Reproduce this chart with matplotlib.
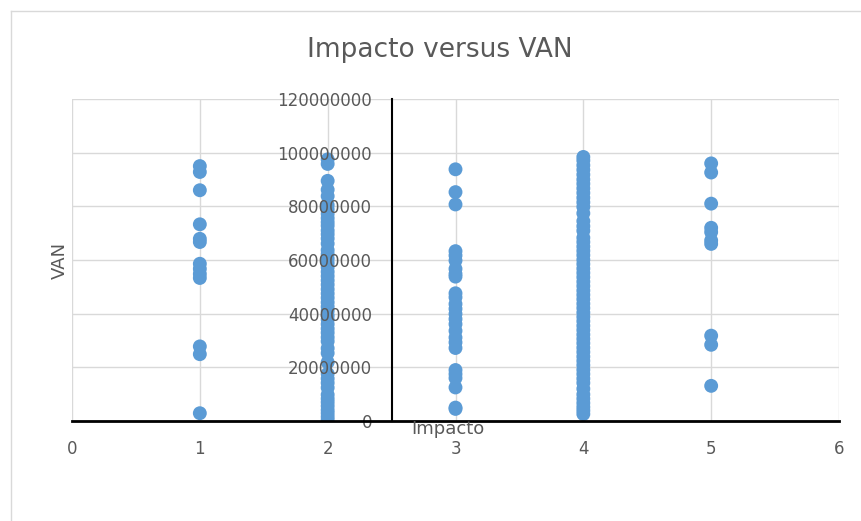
import matplotlib.pyplot as plt
from matplotlib.lines import Line2D
from matplotlib.ticker import MultipleLocator, FormatStrFormatter

# VAN values (millions), grouped by Impacto level
van_impacto_1 = [95.0, 92.8, 86.0, 73.3, 67.9, 66.7, 58.6, 56.7, 54.8, 53.3,
                 27.8, 24.9, 2.9]
van_impacto_2 = [97.5, 95.8, 89.5, 86.2, 83.8, 80.5, 78.9, 77.2, 75.6, 74.1,
                 72.8, 71.0, 69.6, 68.0, 66.1, 63.7, 62.2, 60.5, 58.9, 57.3,
                 55.6, 54.0, 52.4, 50.8, 49.1, 47.5, 45.9, 44.2, 42.6, 41.0,
                 39.3, 37.8, 36.1, 34.4, 32.9, 31.2, 29.7, 27.1, 25.3, 21.9,
                 17.6, 15.8, 14.2, 12.4, 9.8, 8.3, 7.0, 5.6, 4.1, 2.9, 1.6, 0.4]
van_impacto_3 = [93.8, 85.3, 80.7, 63.3, 61.7, 59.8, 56.7, 54.8, 53.8, 47.6,
                 46.1, 43.6, 41.8, 39.9, 38.0, 36.1, 33.6, 31.1, 29.3, 27.2,
                 19.0, 17.5, 16.0, 12.5, 5.0, 4.5]
van_impacto_4 = [98.4, 97.1, 95.3, 93.6, 91.8, 90.0, 88.4, 86.7, 85.0, 83.2,
                 81.5, 79.8, 77.4, 74.5, 72.6, 70.9, 68.3, 66.7, 65.0, 63.4,
                 61.8, 60.1, 58.5, 56.8, 55.2, 53.6, 51.9, 50.3, 48.6, 47.0,
                 45.4, 43.7, 42.1, 40.4, 38.8, 37.2, 35.5, 33.9, 32.2, 30.6,
                 29.0, 27.3, 25.7, 24.0, 22.4, 20.8, 19.1, 17.5, 15.8, 14.2,
                 12.0, 9.9, 8.3, 6.7, 5.2, 3.9, 2.6]
van_impacto_5 = [96.0, 92.6, 81.0, 72.0, 70.4, 67.3, 66.0, 31.8, 28.4, 13.1]

groups = {1: van_impacto_1, 2: van_impacto_2, 3: van_impacto_3,
          4: van_impacto_4, 5: van_impacto_5}

X_TICKS = [0, 1, 2, 3, 4, 5, 6]
Y_TICKS = [0, 20e6, 40e6, 60e6, 80e6, 100e6, 120e6]

GREY = "#595959"
GRID = "#d9d9d9"
BLUE = "#5b9bd5"

fig = plt.figure(figsize=(8.61, 5.21), dpi=100)
W, H = 861, 521
ax = fig.add_axes([72 / W, 1 - 421 / H, (839 - 72) / W, (421 - 99) / H])

# gridlines drawn by hand so the tick labels can sit above the markers
for x in X_TICKS:
    ax.axvline(x, color=GRID, linewidth=1, zorder=0)
for y in Y_TICKS:
    ax.axhline(y, color=GRID, linewidth=1, zorder=0)

for impacto, vals in groups.items():
    xs = [impacto] * len(vals)
    ys = [v * 1e6 for v in vals]
    ax.scatter(xs, ys, s=100, color=BLUE, edgecolors="none", zorder=2)

ax.set_xlim(0, 6)
ax.set_ylim(0, 120e6)
ax.xaxis.set_major_locator(MultipleLocator(1))
ax.yaxis.set_major_locator(MultipleLocator(20e6))
ax.yaxis.set_major_formatter(FormatStrFormatter("%d"))
ax.set_axisbelow(False)

for side in ("top", "right"):
    ax.spines[side].set_visible(False)
ax.spines["left"].set_position(("data", 2.5))
ax.spines["left"].set_linewidth(1.5)
ax.spines["left"].set_zorder(4)
ax.spines["bottom"].set_linewidth(2)
ax.spines["bottom"].set_zorder(4)

ax.tick_params(axis="x", length=0, pad=14, labelsize=12, labelcolor=GREY)
ax.tick_params(axis="y", length=0, pad=14, labelsize=12, labelcolor=GREY)

fig.text(440 / W, 1 - 50 / H, "Impacto versus VAN", ha="center", va="center",
         fontsize=19, color=GREY)
fig.text(448 / W, 1 - 429 / H, "Impacto", ha="center", va="center",
         fontsize=13, color=GREY)
fig.text(60 / W, 1 - 260 / H, "VAN", ha="center", va="center",
         rotation=90, fontsize=13, color=GREY)

# chart border (light grey, as in the spreadsheet export)
fig.add_artist(Line2D([11 / W, 11 / W], [0, 1 - 11 / H], color=GRID, lw=1))
fig.add_artist(Line2D([11 / W, 1], [1 - 11 / H, 1 - 11 / H], color=GRID, lw=1))

fig.savefig("out.png", dpi=100)
